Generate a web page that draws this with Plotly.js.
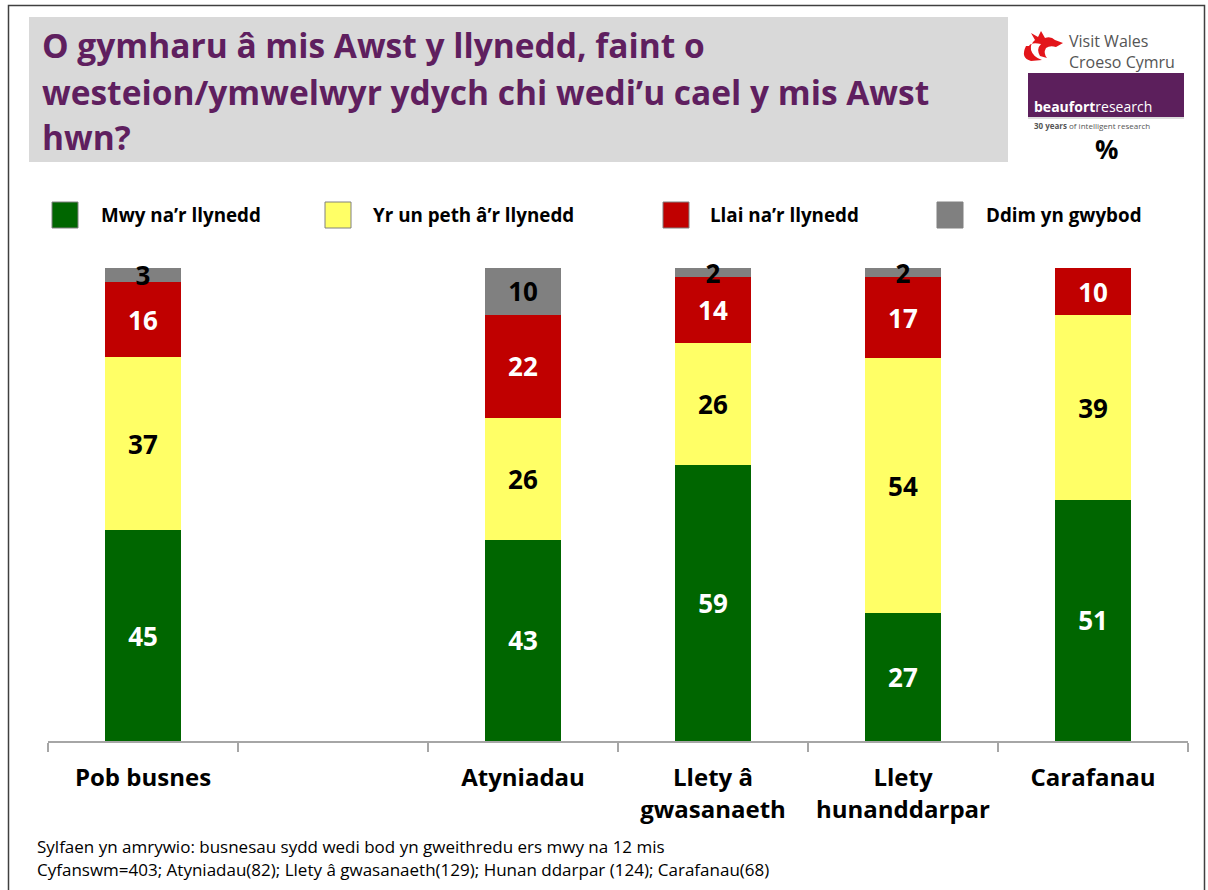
<!DOCTYPE html>
<html>
<head>
<meta charset="utf-8">
<script src="https://cdn.plot.ly/plotly-3.0.1.min.js"></script>
<style>
  html, body { margin: 0; padding: 0; background: #ffffff; }
  #chart { width: 1208px; height: 890px; }
</style>
</head>
<body>
<div id="chart"></div>
<script>
// ---- Data ----
const categories = ['Pob busnes', ' ', 'Atyniadau', 'Llety â<br>gwasanaeth', 'Llety<br>hunanddarpar', 'Carafanau'];
const seriesNames = ['Mwy na’r llynedd', 'Yr un peth â’r llynedd', 'Llai na’r llynedd', 'Ddim yn gwybod'];
const moreThanLastYear = [45, null, 43, 59, 27, 51];
const sameAsLastYear   = [37, null, 26, 26, 54, 39];
const lessThanLastYear = [16, null, 22, 14, 17, 10];
const dontKnow         = [3,  null, 10, 2,  2,  0];

const titleLines = [
  'O gymharu â mis Awst y llynedd, faint o',
  'westeion/ymwelwyr ydych chi wedi’u cael y mis Awst',
  'hwn?'
];
const footnoteLines = [
  'Sylfaen yn amrywio: busnesau sydd wedi bod yn gweithredu ers mwy na 12 mis',
  'Cyfanswm=403; Atyniadau(82); Llety â gwasanaeth(129); Hunan ddarpar (124); Carafanau(68)'
];

// ---- Styling ----
const W = 1208, H = 890;
const X = p => p / W;
const Y = p => 1 - p / H;
const colors = ['#006600', '#ffff66', '#c00000', '#808080'];
const textColors = ['#ffffff', '#000000', '#ffffff', '#000000'];
const FONT = '"Open Sans", "Noto Sans", sans-serif';
const toPaperPath = s => s.replace(/(-?\d+\.?\d*),(-?\d+\.?\d*)/g, (m, a, b) => X(+a) + ',' + Y(+b));

const seriesValues = [moreThanLastYear, sameAsLastYear, lessThanLastYear, dontKnow];
const traces = seriesValues.map((vals, i) => ({
  type: 'bar',
  name: seriesNames[i],
  x: categories,
  y: vals,
  text: vals.map(v => (v === null || v === 0) ? '' : String(v)),
  textposition: 'inside',
  insidetextanchor: 'middle',
  constraintext: 'none',
  textangle: 0,
  cliponaxis: false,
  insidetextfont: { family: FONT, size: 26, color: textColors[i], weight: 'bold' },
  marker: { color: colors[i], line: { width: 0 } },
  hoverinfo: 'skip'
}));

const shapes = [];
const annotations = [];

// outer frame
shapes.push({ type: 'rect', xref: 'paper', yref: 'paper', x0: X(8.5), x1: X(1204.5), y0: Y(900), y1: Y(5.5),
  line: { color: '#404040', width: 1.5 }, fillcolor: 'rgba(0,0,0,0)', layer: 'below' });
// title box
shapes.push({ type: 'rect', xref: 'paper', yref: 'paper', x0: X(29), x1: X(1008), y0: Y(162), y1: Y(17),
  line: { width: 0 }, fillcolor: '#d9d9d9', layer: 'below' });

const titleY = [45, 92, 137];
titleLines.forEach((t, i) => annotations.push({
  xref: 'paper', yref: 'paper', x: X(40), y: Y(titleY[i]), xanchor: 'left', yanchor: 'middle',
  text: t, showarrow: false, font: { family: FONT, size: 33.5, color: '#5f1f5f', weight: 'bold' }
}));

// custom legend
const legendSq = [52, 325, 663, 937];
const legendTx = [99, 371, 708, 984];
seriesNames.forEach((n, i) => {
  shapes.push({ type: 'rect', xref: 'paper', yref: 'paper', x0: X(legendSq[i]), x1: X(legendSq[i] + 26),
    y0: Y(228), y1: Y(202), fillcolor: colors[i], line: { color: '#808080', width: 1 } });
  annotations.push({ xref: 'paper', yref: 'paper', x: X(legendTx[i]), y: Y(215), xanchor: 'left', yanchor: 'middle',
    text: n, showarrow: false, font: { family: FONT, size: 18.8, color: '#000000', weight: 'bold' } });
});

// logos
shapes.push({ type: 'path', xref: 'paper', yref: 'paper', fillcolor: '#e3151a', line: { width: 0 },
  path: toPaperPath('M 1026,46 Q 1020,58 1031,61 L 1042,60 Q 1033,57 1031,50 Q 1030,44 1035,40 L 1031,33 L 1038,37 L 1041,31 L 1045,38 Q 1051,36 1055,40 L 1063,43 L 1056,47 Q 1050,45 1046,48 Q 1043,53 1047,58 L 1040,56 Q 1036,49 1041,44 Q 1031,42 1029,46 Z') });
annotations.push({ xref: 'paper', yref: 'paper', x: X(1067), y: Y(51.5), xanchor: 'left', yanchor: 'middle',
  text: 'Visit Wales<br>Croeso Cymru', align: 'left', showarrow: false, font: { family: FONT, size: 16, color: '#555555' } });
shapes.push({ type: 'rect', xref: 'paper', yref: 'paper', x0: X(1028), x1: X(1184), y0: Y(117), y1: Y(73),
  fillcolor: '#5c1f5c', line: { width: 0 } });
shapes.push({ type: 'line', xref: 'paper', yref: 'paper', x0: X(1028), x1: X(1184), y0: Y(118), y1: Y(118),
  line: { color: '#bbbbbb', width: 1 } });
annotations.push({ xref: 'paper', yref: 'paper', x: X(1032), y: Y(106), xanchor: 'left', yanchor: 'middle',
  text: '<b>beaufort</b>research', showarrow: false, font: { family: FONT, size: 14, color: '#ffffff' } });
annotations.push({ xref: 'paper', yref: 'paper', x: X(1032), y: Y(125), xanchor: 'left', yanchor: 'middle',
  text: '<b>30 years</b> of intelligent research', showarrow: false, font: { family: FONT, size: 8, color: '#555555' } });
annotations.push({ xref: 'paper', yref: 'paper', x: X(1106), y: Y(149), xanchor: 'center', yanchor: 'middle',
  text: '%', showarrow: false, font: { family: FONT, size: 26, color: '#000000', weight: 'bold' } });

// footnotes
const footY = [846, 869];
footnoteLines.forEach((t, i) => annotations.push({
  xref: 'paper', yref: 'paper', x: X(35), y: Y(footY[i]), xanchor: 'left', yanchor: 'middle',
  text: t, showarrow: false, font: { family: FONT, size: 17, color: '#000000' }
}));

const layout = {
  width: W, height: H,
  margin: { l: 0, r: 0, t: 0, b: 0 },
  paper_bgcolor: '#ffffff', plot_bgcolor: '#ffffff',
  barmode: 'stack', barnorm: 'percent', bargap: 0.6,
  showlegend: false,
  font: { family: FONT },
  xaxis: {
    domain: [X(48), X(1188)],
    type: 'category', categoryorder: 'array', categoryarray: categories,
    tickson: 'boundaries', ticks: 'outside', ticklen: 9, tickwidth: 1.5, tickcolor: '#a6a6a6',
    showline: true, linecolor: '#a6a6a6', linewidth: 1.5,
    showgrid: false, zeroline: false, automargin: false,
    tickfont: { family: FONT, size: 24, color: '#000000', weight: 'bold' },
    ticklabelstandoff: 15, fixedrange: true
  },
  yaxis: {
    domain: [Y(741), Y(268)], range: [0, 100],
    visible: false, showgrid: false, zeroline: false, automargin: false, fixedrange: true
  },
  shapes: shapes,
  annotations: annotations
};

Plotly.newPlot('chart', traces, layout, { staticPlot: true, displayModeBar: false });
</script>
</body>
</html>
